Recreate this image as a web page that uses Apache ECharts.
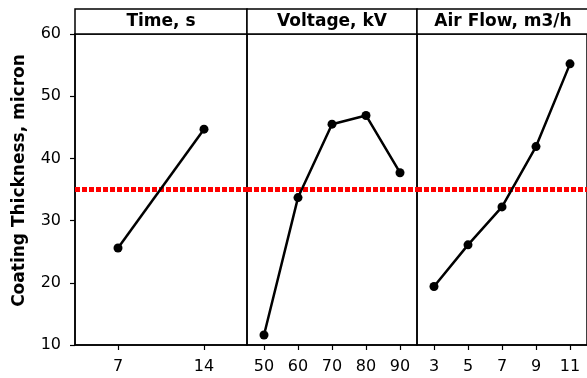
<!DOCTYPE html>
<html><head><meta charset="utf-8">
<script src="https://cdn.jsdelivr.net/npm/echarts@6/dist/echarts.min.js"></script>
<style>html,body{margin:0;padding:0;background:#fff}#c{width:587px;height:378px}</style>
</head><body><div id="c"></div>
<script>
const panelTitles = ['Time, s', 'Voltage, kV', 'Air Flow, m3/h'];
const timeCats = ['7', '14'];
const timeVals = [25.6, 44.7];
const voltCats = ['50', '60', '70', '80', '90'];
const voltVals = [11.6, 33.7, 45.5, 46.9, 37.7];
const airCats = ['3', '5', '7', '9', '11'];
const airVals = [19.4, 26.1, 32.2, 41.9, 55.2];
const meanLine = 35.0;
const yTicks = [10, 20, 30, 40, 50, 60];

const cats = [timeCats, voltCats, airCats];
const vals = [timeVals, voltVals, airVals];
const lefts = [75, 247, 417];
const widths = [172, 170, 172];
const gTop = 34, gHeight = 311;
const font = 'DejaVu Sans, Verdana, sans-serif';

const chart = echarts.init(document.getElementById('c'));
const grids = [], xAxes = [], yAxes = [], series = [], graphics = [];
for (let i = 0; i < 3; i++) {
  grids.push({left: lefts[i], top: gTop, width: widths[i], height: gHeight,
    show: true, borderColor: '#000', borderWidth: 1.5, backgroundColor: 'transparent'});
  xAxes.push({type: 'category', gridIndex: i, data: cats[i], boundaryGap: true,
    axisLine: {show: true, lineStyle: {color: '#000', width: 1.5}},
    axisTick: {show: true, alignWithLabel: true, length: 5, lineStyle: {color: '#000', width: 1.2}},
    axisLabel: {color: '#000', fontSize: 16, fontFamily: font, margin: 14}});
  yAxes.push({type: 'value', gridIndex: i, min: 10, max: 60, interval: 10,
    splitLine: {show: false},
    name: i === 0 ? 'Coating Thickness, micron' : '',
    nameLocation: 'middle', nameGap: 47,
    nameTextStyle: {color: '#000', fontSize: 17, fontWeight: 'bold', fontFamily: font,
      padding: [0, 0, 0, 18]},
    axisLine: {show: i === 0, lineStyle: {color: '#000', width: 1.5}},
    axisTick: {show: i === 0, length: 5, lineStyle: {color: '#000', width: 1.2}},
    axisLabel: {show: i === 0, color: '#000', fontSize: 16, fontFamily: font, margin: 14,
      formatter: v => yTicks.includes(v) ? String(v) : ''}});
  series.push({type: 'line', xAxisIndex: i, yAxisIndex: i, data: vals[i],
    symbol: 'circle', symbolSize: 9, itemStyle: {color: '#000'},
    lineStyle: {color: '#000', width: 2.5}, z: 3,
    markLine: {silent: true, symbol: 'none', label: {show: false},
      lineStyle: {color: '#ff0000', width: 5, type: [5, 2], opacity: 1},
      data: [{yAxis: meanLine}], z: 2}});
  graphics.push({type: 'rect', shape: {x: lefts[i], y: 9, width: widths[i], height: gTop - 9},
    style: {fill: '#fff', stroke: '#000', lineWidth: 1.5}});
  graphics.push({type: 'text', x: lefts[i] + widths[i] / 2, y: (9 + gTop) / 2,
    style: {text: panelTitles[i], fill: '#000', font: 'bold 17px ' + font,
      textAlign: 'center', textVerticalAlign: 'middle'}});
}
chart.setOption({animation: false, grid: grids, xAxis: xAxes, yAxis: yAxes, series: series, graphic: graphics});
</script></body></html>
